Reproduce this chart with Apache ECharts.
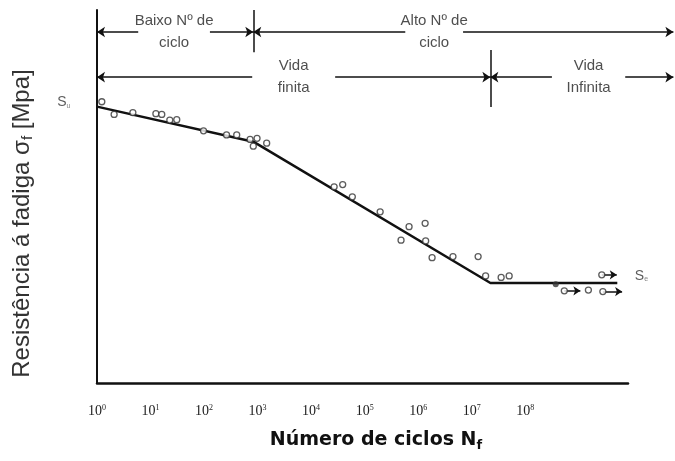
<!DOCTYPE html>
<html lang="pt">
<head>
    <meta charset="UTF-8">
    <title>Curva S-N</title>
    <script src="https://cdn.jsdelivr.net/npm/echarts@6.0.0/dist/echarts.min.js"></script>
    <style>html,body{margin:0;background:#fff;}</style>
</head>
<body>
<div id="main" style="width:675px;height:461px;"></div>
<script>
    // eixo x em décadas (log10 N), eixo y em unidades relativas de tensão
    var expoentes = [0, 1, 2, 3, 4, 5, 6, 7, 8];

    // curva S-N (trechos retos)
    var curvaX = [0, 2.92, 7.35, 9.72];
    var curvaY = [74.1, 64.7, 26.8, 26.8];

    // pontos de ensaio
    var ensaioX = [0.09, 0.32, 0.67, 1.10, 1.21, 1.36, 1.49, 1.99, 2.42, 2.61, 2.86, 2.99, 2.92, 3.17,
                   4.43, 4.59, 4.77, 5.29, 5.83, 6.13, 5.68, 6.14, 6.26, 6.65, 7.12, 7.26, 7.55, 7.70];
    var ensaioY = [75.4, 72.0, 72.5, 72.2, 72.0, 70.5, 70.6, 67.6, 66.5, 66.5, 65.3, 65.6, 63.5, 64.3,
                   52.6, 53.2, 49.9, 45.9, 41.9, 42.8, 38.3, 38.1, 33.6, 33.9, 33.9, 28.7, 28.3, 28.7];

    // corpos de prova que não romperam (run-out)
    var runoutX = [9.43, 8.73, 9.18, 9.45];
    var runoutY = [29.0, 24.7, 24.9, 24.5];
    var runoutSetaX = [9.71, 9.03, null, 9.81];

    var marcaX = [8.57];
    var marcaY = [26.5];

    // faixas de anotação no topo
    var faixaNome = ['Baixo Nº de\nciclo', 'Alto Nº de\nciclo', 'Vida\nfinita', 'Vida\nInfinita'];
    var faixaInicio = [0, 2.92, 0, 7.35];
    var faixaFim = [2.92, 10.77, 7.35, 10.77];
    var faixaNivel = [94.1, 94.1, 82.0, 82.0];
    var vaoInicio = [0.77, 5.76, 2.90, 8.50];
    var vaoFim = [2.11, 6.84, 4.45, 9.87];

    // divisões verticais entre faixas
    var divisaoX = [2.92, 7.35];
    var divisaoTopo = [100, 89.3];
    var divisaoBase = [88.7, 74.0];

    var fonte = 'Liberation Sans, Arial, sans-serif';

    var pontos = function (xs, ys) {
        return xs.map(function (x, i) { return [x, ys[i]]; });
    };

    var setas = [];
    runoutX.forEach(function (x, i) {
        if (runoutSetaX[i] != null) {
            setas.push([{coord: [x, runoutY[i]]}, {coord: [runoutSetaX[i], runoutY[i]]}]);
        }
    });

    var segmentos = [];
    faixaNome.forEach(function (n, i) {
        segmentos.push([{coord: [vaoInicio[i], faixaNivel[i]]}, {coord: [faixaInicio[i], faixaNivel[i]]}]);
        segmentos.push([{coord: [vaoFim[i], faixaNivel[i]]}, {coord: [faixaFim[i], faixaNivel[i]]}]);
    });
    divisaoX.forEach(function (x, i) {
        segmentos.push([{coord: [x, divisaoTopo[i]], symbol: 'none'}, {coord: [x, divisaoBase[i]], symbol: 'none'}]);
    });

    var textos = faixaNome.map(function (n, i) {
        return {value: [(vaoInicio[i] + vaoFim[i]) / 2, faixaNivel[i]], name: n};
    });
    textos.push({
        value: [0, 75.3], name: 'Su',
        label: {position: 'left', distance: 26, formatter: '{m|S}{sub|u}'}
    });
    textos.push({
        value: [10.04, 28.7], name: 'Se',
        label: {position: 'right', distance: 0, formatter: '{m|S}{sub|e}'}
    });

    var myChart = echarts.init(document.getElementById('main'));
    var option = {
        animation: false,
        backgroundColor: '#fff',
        grid: [
            {left: 97, top: 10, right: 47, bottom: 78},
            {left: 97, top: 10, right: 0, bottom: 78}
        ],
        xAxis: [
            {
                gridIndex: 0,
                type: 'value',
                min: 0,
                max: 9.92,
                axisLine: {show: true, lineStyle: {color: '#111', width: 2.5}},
                axisTick: {show: false},
                splitLine: {show: false},
                axisLabel: {
                    customValues: expoentes,
                    showMinLabel: true,
                    margin: 21,
                    formatter: function (v) { return '{b|10}{s|' + v + '}'; },
                    rich: {
                        b: {fontFamily: 'Liberation Serif, serif', fontSize: 14, color: '#222'},
                        s: {fontFamily: 'Liberation Serif, serif', fontSize: 8, color: '#222', padding: [0, 0, 7, 0]}
                    }
                },
                name: 'Número de ciclos N{sub|f}',
                nameLocation: 'middle',
                nameGap: 46,
                nameTextStyle: {
                    fontFamily: 'DejaVu Sans, sans-serif',
                    fontWeight: 'bold',
                    fontSize: 19,
                    color: '#111',
                    padding: [0, 0, 0, 27],
                    rich: {
                        sub: {fontFamily: 'DejaVu Sans, sans-serif', fontWeight: 'bold', fontSize: 13, color: '#111', padding: [10, 0, 0, 0]}
                    }
                }
            },
            {gridIndex: 1, type: 'value', min: 0, max: 10.8, show: false}
        ],
        yAxis: [
            {
                gridIndex: 0,
                type: 'value',
                min: 0,
                max: 100,
                axisLine: {show: true, lineStyle: {color: '#111', width: 2}},
                axisTick: {show: false},
                axisLabel: {show: false},
                splitLine: {show: false},
                name: 'Resistência á fadiga σ{sub|f} [Mpa]',
                nameLocation: 'middle',
                nameGap: 62,
                nameTextStyle: {
                    fontFamily: fonte,
                    fontSize: 24,
                    color: '#333',
                    padding: [0, 54, 0, 0],
                    rich: {
                        sub: {fontFamily: fonte, fontSize: 15, color: '#333', padding: [10, 0, 0, 0]}
                    }
                }
            },
            {gridIndex: 1, type: 'value', min: 0, max: 100, show: false}
        ],
        series: [
            {
                name: 'curva',
                type: 'line',
                xAxisIndex: 0,
                yAxisIndex: 0,
                data: pontos(curvaX, curvaY),
                symbol: 'none',
                lineStyle: {color: '#111', width: 2.5},
                silent: true,
                z: 2
            },
            {
                name: 'ensaios',
                type: 'scatter',
                xAxisIndex: 0,
                yAxisIndex: 0,
                data: pontos(ensaioX, ensaioY),
                symbol: 'circle',
                symbolSize: 6,
                itemStyle: {color: '#fff', borderColor: '#333', borderWidth: 1.3},
                silent: true,
                z: 3
            },
            {
                name: 'runout',
                type: 'scatter',
                xAxisIndex: 0,
                yAxisIndex: 0,
                data: pontos(runoutX, runoutY),
                symbol: 'circle',
                symbolSize: 6,
                itemStyle: {color: '#fff', borderColor: '#333', borderWidth: 1.3},
                silent: true,
                z: 4,
                markLine: {
                    silent: true,
                    z: 1,
                    symbol: ['none', 'arrow'],
                    symbolSize: 7,
                    label: {show: false},
                    lineStyle: {color: '#111', width: 1.5, type: 'solid'},
                    data: setas
                }
            },
            {
                name: 'marca',
                type: 'scatter',
                xAxisIndex: 0,
                yAxisIndex: 0,
                data: pontos(marcaX, marcaY),
                symbolSize: 6,
                itemStyle: {color: '#333'},
                silent: true,
                z: 3
            },
            {
                name: 'anotacoes',
                type: 'scatter',
                xAxisIndex: 1,
                yAxisIndex: 1,
                data: textos,
                symbolSize: 1,
                itemStyle: {color: 'rgba(0,0,0,0)'},
                silent: true,
                label: {
                    show: true,
                    position: 'inside',
                    formatter: '{b}',
                    fontFamily: fonte,
                    fontSize: 15,
                    lineHeight: 22,
                    color: '#222',
                    rich: {
                        m: {fontFamily: fonte, fontSize: 14, color: '#333'},
                        sub: {fontFamily: fonte, fontSize: 7, color: '#666', padding: [7, 0, 0, 0]}
                    }
                },
                markLine: {
                    silent: true,
                    symbol: ['none', 'arrow'],
                    symbolSize: 8,
                    label: {show: false},
                    lineStyle: {color: '#111', width: 1.5, type: 'solid'},
                    data: segmentos
                }
            }
        ]
    };
    myChart.setOption(option);
</script>
</body>
</html>
